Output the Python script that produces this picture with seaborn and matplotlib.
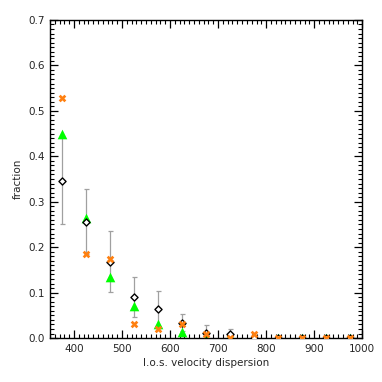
import matplotlib
matplotlib.use("Agg")
import matplotlib.pyplot as plt
import seaborn as sns
import numpy as np
import pandas as pd
from matplotlib.ticker import MultipleLocator

# data
velocity = [375, 425, 475, 525, 575, 625, 675, 725, 775, 825, 875, 925, 975]
black_vals = [0.346, 0.256, 0.168, 0.091, 0.063, 0.034, 0.012, 0.008, 0.0, 0.0, 0.0, 0.001, 0.0]
black_err = [0.096, 0.071, 0.067, 0.044, 0.040, 0.019, 0.016, 0.011, 0.0, 0.0, 0.0, 0.0, 0.0]
green_vals = [0.450, 0.264, 0.134, 0.070, 0.030, 0.014, 0.002, 0.005, 0.001, 0.0, 0.0, 0.0, 0.0]
orange_vals = [0.528, 0.186, 0.174, 0.030, 0.019, 0.030, 0.009, 0.001, 0.008, 0.0, 0.0, 0.0, 0.0]

xlabel_text = "l.o.s. velocity dispersion"
ylabel_text = "fraction"

sns.set_style("ticks")
plt.rcParams['font.family'] = ['DejaVu Sans']

fig = plt.figure(figsize=(3.82, 3.82), dpi=100)
ax = fig.add_axes([0.131, 0.115, 0.817, 0.833])

df = pd.DataFrame({"v": velocity, "b": black_vals, "be": black_err,
                   "g": green_vals, "o": orange_vals})

ax.errorbar(df["v"], df["b"], yerr=df["be"], fmt="none", ecolor="#a0a0a0",
            elinewidth=0.9, capsize=1.8, capthick=0.9, zorder=1)
sns.scatterplot(data=df, x="v", y="b", ax=ax, marker="D", s=13,
                facecolor="white", edgecolor="black", linewidth=1.0, zorder=3)
sns.scatterplot(data=df, x="v", y="g", ax=ax, marker="^", s=48,
                color="#00ff00", edgecolor="#00ff00", linewidth=0, zorder=2)
sns.scatterplot(data=df, x="v", y="o", ax=ax, marker="X", s=30,
                color="#ff8010", edgecolor="#ff8010", linewidth=0, zorder=4)

ax.set_xlim(350, 1000)
ax.set_ylim(0, 0.7)
ax.xaxis.set_major_locator(MultipleLocator(100))
ax.xaxis.set_minor_locator(MultipleLocator(10))
ax.yaxis.set_major_locator(MultipleLocator(0.1))
ax.yaxis.set_minor_locator(MultipleLocator(0.01))
ax.yaxis.set_major_formatter(matplotlib.ticker.FormatStrFormatter("%.1f"))
ax.tick_params(which="both", direction="in", top=True, right=True,
               labelsize=7.5, color="black", pad=4)
ax.tick_params(which="major", length=6, width=0.9)
ax.tick_params(which="minor", length=3, width=0.8)
for s in ax.spines.values():
    s.set_linewidth(1.0)
    s.set_color("black")
ax.set_xlabel(xlabel_text, fontsize=7.5, labelpad=3)
ax.set_ylabel(ylabel_text, fontsize=7.5, labelpad=4)

fig.savefig("out.png", dpi=100)
